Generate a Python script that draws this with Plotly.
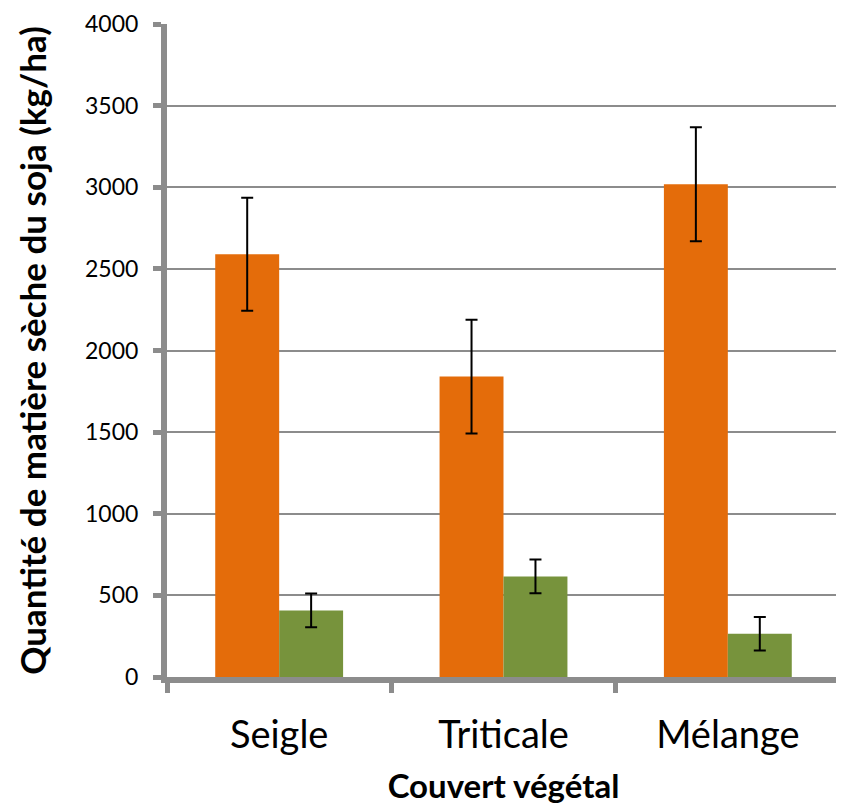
import plotly.graph_objects as go

categories = ["Seigle", "Triticale", "Mélange"]
orange_values = [2590, 1840, 3018]
orange_errors = [346, 348, 349]
green_values = [408, 616, 265]
green_errors = [104, 103, 102]
y_ticks = [0, 500, 1000, 1500, 2000, 2500, 3000, 3500, 4000]

GRAY = "#8c8c8c"
FONT = "Lato"

fig = go.Figure()
fig.add_trace(go.Bar(
    x=categories, y=orange_values, marker_color="#E46C0A", marker_line_width=0,
    error_y=dict(type="data", array=orange_errors, color="black", thickness=2, width=6),
))
fig.add_trace(go.Bar(
    x=categories, y=green_values, marker_color="#77933C", marker_line_width=0,
    error_y=dict(type="data", array=green_errors, color="black", thickness=2, width=6),
))

fig.update_layout(
    width=844, height=808,
    margin=dict(l=159, r=12, t=16, b=139, autoexpand=False),
    paper_bgcolor="white", plot_bgcolor="white",
    barmode="group", bargap=0.43, bargroupgap=0,
    showlegend=False,
    font=dict(family=FONT, color="black"),
)
fig.update_xaxes(
    showline=True, linecolor=GRAY, linewidth=6,
    ticks="outside", tickson="boundaries", ticklen=10, tickwidth=5, tickcolor=GRAY,
    tickfont=dict(size=38, family=FONT), ticklabelstandoff=19,
    title=dict(text="<b>Couvert végétal</b>", font=dict(size=33, family=FONT), standoff=22),
    showgrid=False,
)
fig.update_yaxes(
    range=[0, 4000], tickvals=y_ticks,
    showline=True, linecolor=GRAY, linewidth=6,
    ticks="outside", ticklen=8, tickwidth=5, tickcolor=GRAY,
    tickfont=dict(size=23, family=FONT), ticklabelstandoff=10,
    showgrid=True, gridcolor=GRAY, gridwidth=2,
    zeroline=False,
    title=dict(text="<b>Quantité de matière sèche du soja (kg/ha)</b>", font=dict(size=35, family=FONT), standoff=30),
)

fig.write_html("out.html")
